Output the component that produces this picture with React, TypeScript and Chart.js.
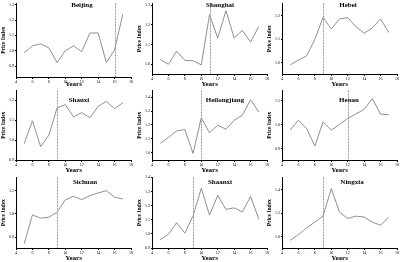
import React, { useEffect, useRef } from "react";
import { Chart, registerables } from "chart.js";

Chart.register(...registerables);

// ---------- data ----------
const years = [5, 6, 7, 8, 9, 10, 11, 12, 13, 14, 15, 16, 17];
const xTicks = [4, 6, 8, 10, 12, 14, 16, 18];
const regionNames = ["Beijing", "Shanghai", "Hebei", "Shanxi", "Heilongjiang", "Henan", "Sichuan", "Shaanxi", "Ningxia"];

const beijing = [0.987, 1.032, 1.045, 1.019, 0.923, 1.0, 1.032, 0.994, 1.116, 1.116, 0.923, 1.006, 1.239];
const shanghai = [1.025, 1.0, 1.067, 1.02, 1.018, 0.997, 1.252, 1.133, 1.272, 1.133, 1.172, 1.113, 1.192];
const hebei = [0.99, 1.011, 1.029, 1.1, 1.194, 1.144, 1.187, 1.193, 1.154, 1.126, 1.149, 1.187, 1.129];
const shanxi = [0.983, 1.097, 0.967, 1.025, 1.162, 1.178, 1.117, 1.138, 1.113, 1.17, 1.195, 1.158, 1.188];
const heilongjiang = [1.067, 1.11, 1.157, 1.167, 0.995, 1.252, 1.143, 1.198, 1.169, 1.233, 1.269, 1.381, 1.293];
const henan = [0.977, 1.018, 0.983, 0.91, 1.011, 0.977, 1.0, 1.025, 1.044, 1.063, 1.108, 1.043, 1.041];
const sichuan = [0.743, 0.991, 0.963, 0.971, 1.014, 1.12, 1.151, 1.123, 1.157, 1.18, 1.2, 1.143, 1.129];
const shaanxi = [0.958, 0.998, 1.079, 1.005, 1.128, 1.323, 1.133, 1.272, 1.174, 1.184, 1.156, 1.265, 1.105];
const ningxia = [0.971, 1.02, 1.077, 1.126, 1.177, 1.411, 1.211, 1.157, 1.177, 1.169, 1.126, 1.1, 1.169];

const breakYears = [16, 11, 9, 9, 10, 12, 9, 9, 9];

const yTicksBeijing = [0.9, 1.0, 1.1, 1.2, 1.3];
const yTicksShanghai = [1.0, 1.1, 1.2, 1.3];
const yTicksHebei = [1.0, 1.1, 1.2];
const yTicksShanxi = [0.9, 1.0, 1.1, 1.2];
const yTicksHeilongjiang = [1.0, 1.1, 1.2, 1.3, 1.4];
const yTicksHenan = [0.9, 1.0, 1.1];
const yTicksSichuan = [0.8, 1.0, 1.2];
const yTicksShaanxi = [0.9, 1.0, 1.1, 1.2, 1.3, 1.4];
const yTicksNingxia = [1.0, 1.2, 1.4];

const yMin = [0.829, 0.951, 0.951, 0.9, 0.948, 0.852, 0.706, 0.9, 0.906];
const yMax = [1.309, 1.309, 1.254, 1.25, 1.448, 1.142, 1.314, 1.4, 1.506];

const series = [beijing, shanghai, hebei, shanxi, heilongjiang, henan, sichuan, shaanxi, ningxia];
const yTickSets = [yTicksBeijing, yTicksShanghai, yTicksHebei, yTicksShanxi, yTicksHeilongjiang, yTicksHenan, yTicksSichuan, yTicksShaanxi, yTicksNingxia];

// ---------- layout ----------
const SERIF = '"Liberation Serif", "DejaVu Serif", serif';
const colLeft = [0, 136, 266];
const rowTop = [0, 87, 174];
const rowHeight = [88, 87, 88];
const canvasW = 134;
const xAxisH = [11, 14, 14, 14, 14, 14, 14, 14, 14];
const titleX = [82, 84, 82, 79, 89, 83, 85, 84, 86];
const titleYRow = [5.5, 13, 8];

function Panel({ idx }: { idx: number }) {
  const ref = useRef<HTMLCanvasElement | null>(null);
  const col = idx % 3;
  const row = Math.floor(idx / 3);
  const h = rowHeight[row];

  useEffect(() => {
    const name = regionNames[idx];
    const brk = breakYears[idx];
    const overlay = {
      id: "overlay" + idx,
      afterDatasetsDraw(chart: any) {
        const { ctx, chartArea, scales } = chart;
        const x = Math.round(scales.x.getPixelForValue(brk)) + 0.5;
        ctx.save();
        ctx.strokeStyle = "#9a9a9a";
        ctx.lineWidth = 1;
        ctx.setLineDash([2, 1]);
        ctx.beginPath();
        ctx.moveTo(x, chartArea.top);
        ctx.lineTo(x, chartArea.bottom);
        ctx.stroke();
        ctx.setLineDash([]);
        ctx.font = `bold 7px ${SERIF}`;
        ctx.fillStyle = "#000";
        ctx.textAlign = "center";
        ctx.textBaseline = "middle";
        ctx.fillText(name, titleX[idx], titleYRow[row]);
        ctx.restore();
      },
    };

    const chart = new Chart(ref.current as HTMLCanvasElement, {
      type: "line",
      data: {
        datasets: [
          {
            data: years.map((x, i) => ({ x, y: series[idx][i] })),
            borderColor: "#8f8f8f",
            borderWidth: 1,
            pointRadius: 0,
            tension: 0,
            fill: false,
          },
        ],
      },
      options: {
        animation: false,
        responsive: false,
        devicePixelRatio: 1,
        layout: { padding: { top: 3, right: 3, left: 0, bottom: 0 } },
        plugins: {
          legend: { display: false },
          tooltip: { enabled: false },
          title: { display: false },
        },
        scales: {
          x: {
            type: "linear",
            min: 4,
            max: 18,
            grid: { display: true, drawOnChartArea: false, drawTicks: true, tickLength: 2, color: "#000" },
            border: { display: true, color: "#000", width: 1 },
            ticks: {
              color: "#000",
              font: { size: 4, family: SERIF },
              padding: 1,
              maxRotation: 0,
              autoSkip: false,
              callback: (v: any) => String(v),
            },
            afterBuildTicks: (s: any) => {
              s.ticks = xTicks.map((v) => ({ value: v }));
            },
            afterFit: (s: any) => {
              s.height = xAxisH[idx];
            },
            title: {
              display: true,
              text: "Years",
              color: "#000",
              font: { size: 7, weight: "bold", family: SERIF },
              padding: { top: 0, bottom: 0 },
            },
          },
          y: {
            type: "linear",
            min: yMin[idx],
            max: yMax[idx],
            grid: { display: true, drawOnChartArea: false, drawTicks: true, tickLength: 1, color: "#000" },
            border: { display: true, color: "#000", width: 1 },
            ticks: {
              color: "#000",
              font: { size: 4, family: SERIF },
              padding: 1,
              autoSkip: false,
              callback: (v: any) => Number(v).toFixed(1),
            },
            afterBuildTicks: (s: any) => {
              s.ticks = yTickSets[idx].map((v) => ({ value: v }));
            },
            afterFit: (s: any) => {
              s.width = 16;
            },
            title: {
              display: true,
              text: "Price Index",
              color: "#000",
              font: { size: 5.5, weight: "bold", family: SERIF },
              padding: { top: 0.5, bottom: 0 },
            },
          },
        },
      } as any,
      plugins: [overlay],
    });
    return () => chart.destroy();
  }, [idx]);

  return (
    <canvas
      ref={ref}
      width={canvasW}
      height={h}
      style={{ position: "absolute", left: colLeft[col], top: rowTop[row], width: canvasW, height: h }}
    />
  );
}

export default function App() {
  return (
    <div style={{ position: "fixed", left: 0, top: 0, width: 400, height: 262, background: "#fff", overflow: "hidden" }}>
      {regionNames.map((_, i) => (
        <Panel key={i} idx={i} />
      ))}
    </div>
  );
}
